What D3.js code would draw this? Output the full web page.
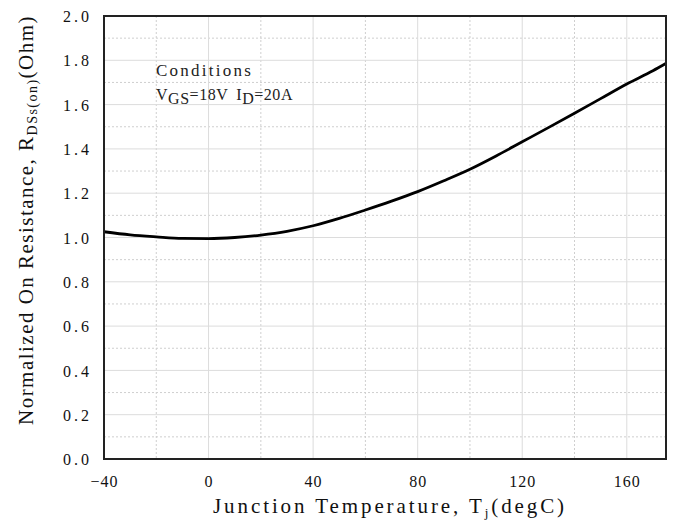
<!DOCTYPE html>
<html><head><meta charset="utf-8">
<script src="https://cdn.jsdelivr.net/npm/d3@7"></script>
<style>body{margin:0;background:#fff}svg{display:block}</style>
</head><body>
<script>
const temps = [-40,-30,-20,-10,0,10,20,30,40,50,60,70,80,90,100,110,120,130,140,150,160,170,175];
const resistance = [1.026,1.012,1.003,0.996,0.995,1.000,1.011,1.028,1.053,1.086,1.124,1.164,1.207,1.256,1.308,1.368,1.432,1.496,1.561,1.627,1.693,1.753,1.786];
const xTicks = [-40,0,40,80,120,160];
const xMinor = [-20,20,60,100,140];
const yTicks = [0,0.2,0.4,0.6,0.8,1.0,1.2,1.4,1.6,1.8,2.0];
const yMinor = [0.1,0.3,0.5,0.7,0.9,1.1,1.3,1.5,1.7,1.9];
const legendTitle = ["Conditions"];

const W=674,H=527, L=104, R=666, T=16, B=459;
const FONT = "'Liberation Serif', 'Times New Roman', serif";
const svg = d3.select("body").append("svg").attr("width",W).attr("height",H);
const x = d3.scaleLinear().domain([-40,175]).range([L,R]);
const y = d3.scaleLinear().domain([0,2]).range([B,T]);

function fit(textSel, target){
  const node = textSel.node();
  const w = node.getComputedTextLength();
  const n = node.textContent.length;
  textSel.attr("letter-spacing", ((target - w)/n).toFixed(2));
}

const g = svg.append("g");
g.selectAll(".vx").data(xMinor).enter().append("line")
 .attr("x1",d=>x(d)).attr("x2",d=>x(d)).attr("y1",T).attr("y2",B)
 .attr("stroke","#cfcfcf").attr("stroke-width",1).attr("stroke-dasharray","2,2");
g.selectAll(".hy").data(yMinor).enter().append("line")
 .attr("y1",d=>y(d)).attr("y2",d=>y(d)).attr("x1",L).attr("x2",R)
 .attr("stroke","#cfcfcf").attr("stroke-width",1).attr("stroke-dasharray","2,2");
g.selectAll(".vX").data(xTicks).enter().append("line")
 .attr("x1",d=>x(d)).attr("x2",d=>x(d)).attr("y1",T).attr("y2",B)
 .attr("stroke","#dcdcdc").attr("stroke-width",1);
g.selectAll(".hY").data(yTicks).enter().append("line")
 .attr("y1",d=>y(d)).attr("y2",d=>y(d)).attr("x1",L).attr("x2",R)
 .attr("stroke","#dcdcdc").attr("stroke-width",1);

const line = d3.line().x((d,i)=>x(temps[i])).y(d=>y(d)).curve(d3.curveMonotoneX);
svg.append("path").datum(resistance).attr("d",line)
 .attr("fill","none").attr("stroke","#000").attr("stroke-width",2.8);

svg.append("rect").attr("x",L).attr("y",T).attr("width",R-L).attr("height",B-T)
 .attr("fill","none").attr("stroke","#222").attr("stroke-width",2);

const xAxis = d3.axisBottom(x).tickValues(xTicks).tickSize(0).tickPadding(0)
 .tickFormat(d=> d<0 ? "\u2212"+Math.abs(d) : String(d));
const xa = svg.append("g").attr("transform",`translate(0,${B})`).call(xAxis);
xa.select(".domain").remove();
xa.selectAll("text").attr("dy",null).attr("y",28).attr("font-family",FONT).attr("font-size",16)
 .attr("letter-spacing",1).attr("fill","#111");

const yAxis = d3.axisLeft(y).tickValues(yTicks).tickSize(0).tickPadding(0)
 .tickFormat(d3.format(".1f"));
const ya = svg.append("g").attr("transform",`translate(${L},0)`).call(yAxis);
ya.select(".domain").remove();
ya.selectAll("text").attr("x",-12).attr("dy","0.35em").attr("font-family",FONT).attr("font-size",16)
 .attr("letter-spacing",3).attr("fill","#111");

const leg = svg.append("g").attr("font-family",FONT).attr("fill","#222");
const t1 = leg.selectAll("text.l").data(legendTitle).enter().append("text").attr("x",156).attr("y",76)
 .attr("font-size",17).text(d=>d);
fit(t1, 97);
const t2 = leg.append("text").attr("x",156).attr("y",100).attr("font-size",16);
t2.append("tspan").text("V");
t2.append("tspan").attr("dy",4).text("GS");
t2.append("tspan").attr("dy",-4).text("=18V");
t2.append("tspan").attr("dx",8).text("I");
t2.append("tspan").attr("dy",4).text("D");
t2.append("tspan").attr("dy",-4).text("=20A");
fit(t2, 129);

const xt = svg.append("text").attr("x",213).attr("y",513)
 .attr("font-family",FONT).attr("font-size",21).attr("fill","#111");
xt.append("tspan").text("Junction Temperature, T");
xt.append("tspan").attr("dy",4).attr("font-size",13).text("j");
xt.append("tspan").attr("dy",-4).text("(degC)");
fit(xt, 354);

const yt = svg.append("text").attr("transform",`translate(33,425) rotate(-90)`)
 .attr("font-family",FONT).attr("font-size",21).attr("fill","#111");
yt.append("tspan").text("Normalized On Resistance, R");
yt.append("tspan").attr("dy",4).attr("font-size",14).text("DSs(on)");
yt.append("tspan").attr("dy",-4).text("(Ohm)");
fit(yt, 410);
</script>
</body></html>
